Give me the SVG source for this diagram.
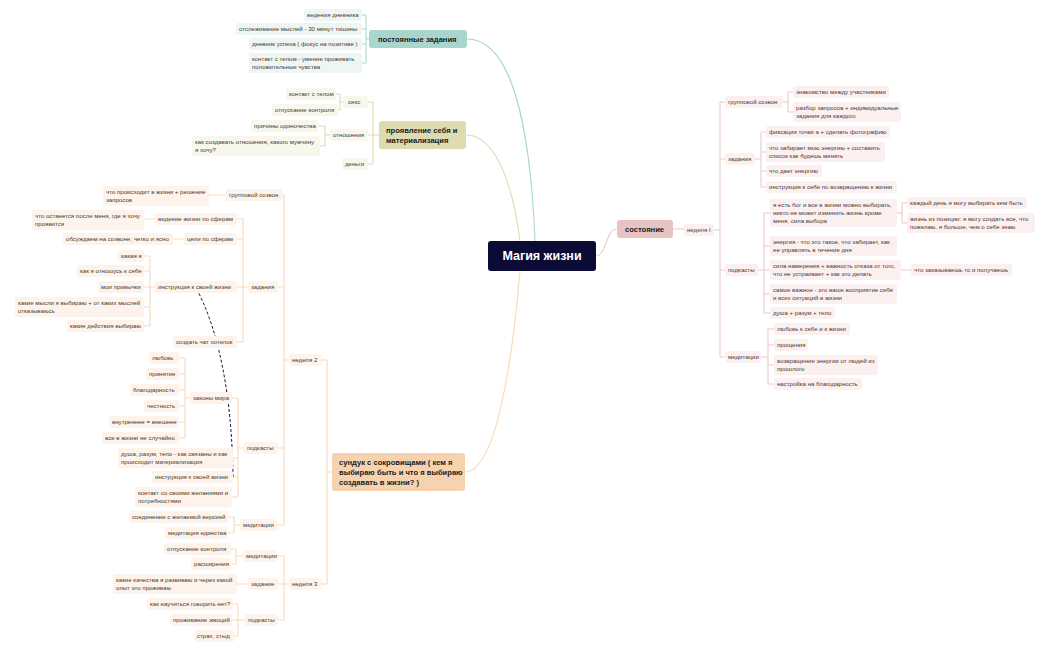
<svg xmlns="http://www.w3.org/2000/svg" width="1050" height="650" viewBox="0 0 1050 650">
<defs>
<style>
text{font-family:"Liberation Sans",Arial,sans-serif;font-size:6.1px;fill:#4a3a33}
.t rect{fill:#eef6f4}.o rect{fill:#f7f7ec}.p rect{fill:#fbf0ef}.r rect{fill:#fdf3ea}
.top text{font-size:7.6px;font-weight:bold;fill:#1a1a1a}
.c{fill:none;stroke-width:1.1}
.ct{stroke:#a9d8d0}.co{stroke:#dcdcb0}.cp{stroke:#eccaca}.cr{stroke:#f8d9bc}
</style>
<marker id="ah" viewBox="0 0 10 10" refX="9" refY="5" markerWidth="6" markerHeight="6" orient="auto"><path d="M0 0L10 5L0 10z" fill="#1a1a40"/></marker>
</defs>
<rect width="1050" height="650" fill="#fff"/>
<g id="connectors">
<path class="c ct" d="M467 39C510 39 530 120 535 241"/>
<path class="c co" d="M466 135C500 135 515 200 520 241"/>
<path class="c cr" d="M465 472C500 472 515 330 520 271"/>
<path class="c cp" d="M596 256C606 256 606 229 617 229"/>
<path class="c ct" d="M369 39H366M366 15V63M362 15H366M362 29H366M362 44H366M362 63H366"/>
<path class="c co" d="M379 135H373M373 102V164M368 102H373M368 164H373M368 135H373M343 102H340M340 94V110M336 94H340M338 110H340M330 135H325M325 126V146M318 126H325M320 146H325"/>
<path class="c cp" d="M673 229H684M714 230H720M720 102V357M720 102H725M720 159H725M720 270H725M720 357H725M783 102H788M788 92V112M788 92H793M788 112H793M755 159H761M761 132V187M761 132H766M761 152H766M761 171H766M761 187H766M758 270H764M764 213V313M764 213H770M764 246H770M764 270H770M764 294H770M764 313H770M897 213H902M902 203V223M902 203H907M902 223H907M901 270H911M761 357H768M768 329V384M768 329H774M768 345H774M768 365H774M768 384H774"/>
<path class="c cr" d="M332 472H327M327 360V584M321 360H327M321 584H327M289 360H284M284 195V525M282 195H284M278 287H284M278 448H284M277 525H284M248 287H243M243 219V342M237 219H243M237 239H243M237 287H243M237 342H243M155 219H144M184 239H173M155 287H150M150 256V326M144 256H150M144 271H150M144 287H150M144 307H150M144 326H150M244 448H238M238 398V497M232 398H238M233 458H238M233 477H238M232 497H238M190 398H185M185 358V438M179 358H185M179 374H185M179 390H185M179 406H185M179 422H185M179 438H185M226 195H209M240 525H234M234 517V533M228 517H234M228 533H234M289 584H284M284 556V620M278 556H284M278 584H284M278 620H284M243 556H236M236 549V564M231 549H236M231 564H236M248 584H237M245 620H238M238 604V636M233 604H238M232 620H238M234 636H238"/>
<path d="M233 477C232 400 220 330 194 284" fill="none" stroke="#1a1a40" stroke-width="1" stroke-dasharray="3,2" marker-end="url(#ah)"/>
</g>
<g id="center"><rect x="488" y="241" width="108" height="30" rx="3" fill="#0b0b35"/><text x="542" y="260" text-anchor="middle" style="font-size:12.5px;fill:#fff;font-weight:bold">Магия жизни</text></g>
<g id="teal-topic" class="top"><rect x="369" y="30" width="98" height="18" rx="3" fill="#a9d6cc"/><text x="378" y="42">постоянные задания</text></g>
<g class="t">
<g id="t1"><rect x="304" y="9" width="58" height="12" rx="2"/><text x="307" y="17">ведения дневника</text></g>
<g id="t2"><rect x="236" y="23" width="126" height="12" rx="2"/><text x="239" y="31">отслеживание мыслей - 30 минут тишины</text></g>
<g id="t3"><rect x="249" y="38" width="113" height="12" rx="2"/><text x="252" y="46">дневник успеха ( фокус на позитиве )</text></g>
<g id="t4"><rect x="249" y="53" width="113" height="20" rx="2"/><text x="252" y="61">контакт с телом - умение проживать</text><text x="252" y="69">положительные чувства</text></g>
</g>
<g id="olive-topic" class="top"><rect x="379" y="121" width="87" height="28" rx="3" fill="#dcdcb0"/><text x="386" y="133">проявление себя и</text><text x="386" y="143">материализация</text></g>
<g class="o">
<g id="o1"><rect x="343" y="96" width="25" height="12" rx="2"/><text x="348" y="104">секс</text></g>
<g id="o2"><rect x="286" y="88" width="50" height="12" rx="2"/><text x="289" y="96">контакт с телом</text></g>
<g id="o3"><rect x="272" y="104" width="66" height="12" rx="2"/><text x="275" y="112">отпускание контроля</text></g>
<g id="o4"><rect x="330" y="129" width="38" height="12" rx="2"/><text x="333" y="137">отношения</text></g>
<g id="o5"><rect x="251" y="120" width="67" height="12" rx="2"/><text x="254" y="128">причины одиночества</text></g>
<g id="o6"><rect x="192" y="136" width="128" height="20" rx="2"/><text x="195" y="144">как создавать отношения, какого мужчину</text><text x="195" y="152">я хочу?</text></g>
<g id="o7"><rect x="342" y="158" width="26" height="12" rx="2"/><text x="345" y="166">деньги</text></g>
</g>
<g id="pink-topic" class="top"><rect x="617" y="220" width="56" height="18" rx="3" fill="#e8c3c3"/><text x="625" y="232">состояние</text></g>
<g class="p">
<g id="p0"><rect x="684" y="224" width="30" height="12" rx="2"/><text x="687" y="232">неделя I</text></g>
<g id="p1"><rect x="725" y="96" width="58" height="12" rx="2"/><text x="728" y="104">групповой созвон</text></g>
<g id="p2"><rect x="793" y="86" width="96" height="12" rx="2"/><text x="796" y="94">знакомство между участниками</text></g>
<g id="p3"><rect x="793" y="102" width="108" height="20" rx="2"/><text x="796" y="110">разбор запросов + индивидуальные</text><text x="796" y="118">задания для каждого</text></g>
<g id="p4"><rect x="725" y="153" width="30" height="12" rx="2"/><text x="728" y="161">задания</text></g>
<g id="p5"><rect x="766" y="126" width="124" height="12" rx="2"/><text x="769" y="134">фиксация точки а + сделать фотографию</text></g>
<g id="p6"><rect x="766" y="142" width="119" height="20" rx="2"/><text x="769" y="150">что забирает мою энергию + составить</text><text x="769" y="158">список как будешь менять</text></g>
<g id="p7"><rect x="766" y="165" width="56" height="12" rx="2"/><text x="769" y="173">что дает энергию</text></g>
<g id="p8"><rect x="766" y="181" width="131" height="12" rx="2"/><text x="769" y="189">инструкция к себе по возвращению к жизни</text></g>
<g id="p9"><rect x="725" y="264" width="33" height="12" rx="2"/><text x="728" y="272">подкасты</text></g>
<g id="p10"><rect x="770" y="199" width="127" height="28" rx="2"/><text x="773" y="207">я есть бог и все в жизни можно выбирать,</text><text x="773" y="215">никто не может изменить жизнь кроме</text><text x="773" y="223">меня, сила выбора</text></g>
<g id="p11"><rect x="907" y="197" width="120" height="12" rx="2"/><text x="910" y="205">каждый день я могу выбирать кем быть</text></g>
<g id="p12"><rect x="907" y="213" width="128" height="20" rx="2"/><text x="910" y="221">жизнь из позиции: я могу создать все, что</text><text x="910" y="229">пожелаю. я больше, чем о себе знаю</text></g>
<g id="p13"><rect x="770" y="236" width="127" height="20" rx="2"/><text x="773" y="244">энергия - что это такое, что забирает, как</text><text x="773" y="252">ее управлять в течение дня</text></g>
<g id="p14"><rect x="770" y="260" width="131" height="20" rx="2"/><text x="773" y="268">сила намерения + важность отказа от того,</text><text x="773" y="276">что не устраивает + как это делать</text></g>
<g id="p15"><rect x="911" y="264" width="101" height="12" rx="2"/><text x="914" y="272">что заказываешь то и получаешь</text></g>
<g id="p16"><rect x="770" y="284" width="127" height="20" rx="2"/><text x="773" y="292">самое важное - это ваше восприятие себя</text><text x="773" y="300">и всех ситуаций в жизни</text></g>
<g id="p17"><rect x="770" y="307" width="65" height="12" rx="2"/><text x="773" y="315">душа + разум + тело</text></g>
<g id="p18"><rect x="725" y="351" width="36" height="12" rx="2"/><text x="728" y="359">медитации</text></g>
<g id="p19"><rect x="774" y="323" width="76" height="12" rx="2"/><text x="777" y="331">любовь к себе и к жизни</text></g>
<g id="p20"><rect x="774" y="339" width="34" height="12" rx="2"/><text x="777" y="347">прощения</text></g>
<g id="p21"><rect x="774" y="355" width="104" height="20" rx="2"/><text x="777" y="363">возвращение энергии от людей из</text><text x="777" y="371">прошлого</text></g>
<g id="p22"><rect x="774" y="378" width="88" height="12" rx="2"/><text x="777" y="386">настройка на благодарность</text></g>
</g>
<g id="orange-topic" class="top"><rect x="332" y="453" width="133" height="38" rx="3" fill="#f6d3ae"/><text x="339" y="465">сундук с сокровищами ( кем я</text><text x="339" y="475">выбираю быть и что я выбираю</text><text x="339" y="485">создавать в жизни? )</text></g>
<g class="r">
<g id="r0"><rect x="289" y="354" width="32" height="12" rx="2"/><text x="292" y="362">неделя 2</text></g>
<g id="r1"><rect x="226" y="189" width="56" height="12" rx="2"/><text x="229" y="197">групповой созвон</text></g>
<g id="r2"><rect x="103" y="186" width="106" height="20" rx="2"/><text x="106" y="194">что происходит в жизни + решение</text><text x="106" y="202">запросов</text></g>
<g id="r3"><rect x="248" y="281" width="30" height="12" rx="2"/><text x="251" y="289">задания</text></g>
<g id="r4"><rect x="155" y="213" width="82" height="12" rx="2"/><text x="158" y="221">видение жизни по сферам</text></g>
<g id="r5"><rect x="32" y="210" width="112" height="20" rx="2"/><text x="35" y="218">что останется после меня, где я хочу</text><text x="35" y="226">проявится</text></g>
<g id="r6"><rect x="184" y="233" width="53" height="12" rx="2"/><text x="187" y="241">цели по сферам</text></g>
<g id="r7"><rect x="63" y="233" width="110" height="12" rx="2"/><text x="66" y="241">обсуждаем на созвоне, четко и ясно</text></g>
<g id="r8"><rect x="155" y="281" width="82" height="12" rx="2"/><text x="158" y="289">инструкция к своей жизни</text></g>
<g id="r9"><rect x="118" y="250" width="26" height="12" rx="2"/><text x="121" y="258">какая я</text></g>
<g id="r10"><rect x="77" y="265" width="67" height="12" rx="2"/><text x="80" y="273">как я отношусь к себе</text></g>
<g id="r11"><rect x="98" y="281" width="46" height="12" rx="2"/><text x="101" y="289">мои привычки</text></g>
<g id="r12"><rect x="15" y="297" width="129" height="20" rx="2"/><text x="18" y="305">какие мысли я выбираю + от каких мыслей</text><text x="18" y="313">отказываюсь</text></g>
<g id="r13"><rect x="67" y="320" width="77" height="12" rx="2"/><text x="70" y="328">какие действия выбираю</text></g>
<g id="r14"><rect x="173" y="336" width="64" height="12" rx="2"/><text x="176" y="344">создать чат хотелок</text></g>
<g id="r15"><rect x="244" y="442" width="34" height="12" rx="2"/><text x="247" y="450">подкасты</text></g>
<g id="r16"><rect x="190" y="392" width="42" height="12" rx="2"/><text x="193" y="400">законы мира</text></g>
<g id="r17"><rect x="149" y="352" width="30" height="12" rx="2"/><text x="152" y="360">любовь</text></g>
<g id="r18"><rect x="146" y="368" width="33" height="12" rx="2"/><text x="149" y="376">принятие</text></g>
<g id="r19"><rect x="130" y="384" width="49" height="12" rx="2"/><text x="133" y="392">благодарность</text></g>
<g id="r20"><rect x="144" y="400" width="35" height="12" rx="2"/><text x="147" y="408">честность</text></g>
<g id="r21"><rect x="109" y="416" width="70" height="12" rx="2"/><text x="112" y="424">внутреннее = внешнее</text></g>
<g id="r22"><rect x="102" y="432" width="77" height="12" rx="2"/><text x="105" y="440">все в жизни не случайно</text></g>
<g id="r23"><rect x="118" y="448" width="115" height="20" rx="2"/><text x="121" y="456">душа, разум, тело - как связаны и как</text><text x="121" y="464">происходит материализация</text></g>
<g id="r24"><rect x="152" y="471" width="81" height="12" rx="2"/><text x="155" y="479">инструкция к своей жизни</text></g>
<g id="r25"><rect x="135" y="487" width="97" height="20" rx="2"/><text x="138" y="495">контакт со своими желаниями и</text><text x="138" y="503">потребностями</text></g>
<g id="r26"><rect x="240" y="519" width="37" height="12" rx="2"/><text x="243" y="527">медитации</text></g>
<g id="r27"><rect x="129" y="511" width="99" height="12" rx="2"/><text x="132" y="519">соединение с желаемой версией</text></g>
<g id="r28"><rect x="165" y="527" width="63" height="12" rx="2"/><text x="168" y="535">медитация единства</text></g>
<g id="r29"><rect x="289" y="578" width="32" height="12" rx="2"/><text x="292" y="586">неделя 3</text></g>
<g id="r30"><rect x="243" y="550" width="35" height="12" rx="2"/><text x="246" y="558">медитации</text></g>
<g id="r31"><rect x="164" y="543" width="67" height="12" rx="2"/><text x="167" y="551">отпускание контроля</text></g>
<g id="r32"><rect x="191" y="558" width="40" height="12" rx="2"/><text x="194" y="566">расширения</text></g>
<g id="r33"><rect x="248" y="578" width="30" height="12" rx="2"/><text x="251" y="586">задание</text></g>
<g id="r34"><rect x="113" y="574" width="124" height="20" rx="2"/><text x="116" y="582">какие качества я развиваю и через какой</text><text x="116" y="590">опыт это проживаю</text></g>
<g id="r35"><rect x="245" y="614" width="33" height="12" rx="2"/><text x="248" y="622">подкасты</text></g>
<g id="r36"><rect x="147" y="598" width="86" height="12" rx="2"/><text x="150" y="606">как научиться говорить нет?</text></g>
<g id="r37"><rect x="170" y="614" width="62" height="12" rx="2"/><text x="173" y="622">проживание эмоций</text></g>
<g id="r38"><rect x="194" y="630" width="40" height="12" rx="2"/><text x="197" y="638">страх, стыд</text></g>
</g>
</svg>
